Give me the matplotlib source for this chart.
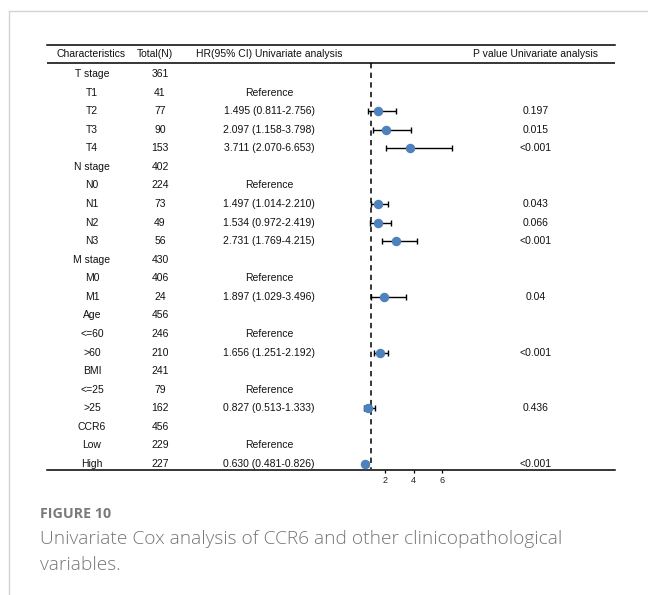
import numpy as np
import matplotlib
matplotlib.use("Agg")
import matplotlib.pyplot as plt
import matplotlib.transforms as mtransforms
from matplotlib.lines import Line2D

# univariate Cox results
labels = ["T stage", "T1", "T2", "T3", "T4",
          "N stage", "N0", "N1", "N2", "N3",
          "M stage", "M0", "M1",
          "Age", "<=60", ">60",
          "BMI", "<=25", ">25",
          "CCR6", "Low", "High"]
totals = [361, 41, 77, 90, 153,
          402, 224, 73, 49, 56,
          430, 406, 24,
          456, 246, 210,
          241, 79, 162,
          456, 229, 227]
nan = np.nan
hr = [nan, nan, 1.495, 2.097, 3.711,
      nan, nan, 1.497, 1.534, 2.731,
      nan, nan, 1.897,
      nan, nan, 1.656,
      nan, nan, 0.827,
      nan, nan, 0.630]
ci_low = [nan, nan, 0.811, 1.158, 2.070,
          nan, nan, 1.014, 0.972, 1.769,
          nan, nan, 1.029,
          nan, nan, 1.251,
          nan, nan, 0.513,
          nan, nan, 0.481]
ci_high = [nan, nan, 2.756, 3.798, 6.653,
           nan, nan, 2.210, 2.419, 4.215,
           nan, nan, 3.496,
           nan, nan, 2.192,
           nan, nan, 1.333,
           nan, nan, 0.826]
pvals = ["", "", "0.197", "0.015", "<0.001",
         "", "", "0.043", "0.066", "<0.001",
         "", "", "0.04",
         "", "", "<0.001",
         "", "", "0.436",
         "", "", "<0.001"]
reference_rows = ["T1", "N0", "M0", "<=60", "<=25", "Low"]
xticks = [2, 4, 6]

W, H = 648, 595
fig = plt.figure(figsize=(W / 100, H / 100), dpi=100)
fig.patch.set_facecolor("white")

# table / forest area in pixel terms
left_px, right_px, top_px, bot_px = 47, 615, 44.5, 469.5
ax = fig.add_axes([left_px / W, 1 - bot_px / H,
                   (right_px - left_px) / W, (bot_px - top_px) / H])

px_per_unit = 14.33
ref_px = 370.7
ax.set_xlim(1 - (ref_px - left_px) / px_per_unit, 1 + (right_px - ref_px) / px_per_unit)
ax.set_ylim(21.3, -1.59)

for s in ["left", "right"]:
    ax.spines[s].set_visible(False)
ax.spines["top"].set_linewidth(1.1)
ax.spines["bottom"].set_linewidth(1.1)
ax.set_yticks([])
ax.set_xticks(xticks)
ax.tick_params(axis="x", direction="out", length=2.5, width=0.9, pad=2,
               labelsize=6.5, labelcolor="#222222")
for lab in ax.get_xticklabels():
    lab.set_fontfamily("Liberation Sans")

header_y = -1.08
ax.axhline(-0.576, color="black", lw=1.1)

rows = np.arange(len(labels))
hr_a = np.array(hr)
lo_a = np.array(ci_low)
hi_a = np.array(ci_high)

ax.vlines(1, -0.576, 21.3, colors="black", linestyles=(0, (3.5, 2.8)), lw=1.1)
ax.errorbar(hr_a, rows, xerr=[hr_a - lo_a, hi_a - hr_a], fmt="o",
            color="#4F81BD", ecolor="black", elinewidth=1.0, capsize=2.2,
            capthick=1.0, markersize=5.8, zorder=3)

# text columns
tr = mtransforms.blended_transform_factory(fig.transFigure, ax.transData)
tkw = dict(ha="center", va="center", fontsize=7.5, family="Liberation Sans",
           color="#111111", transform=tr)
col_char, col_total, col_hr, col_p = 92 / W, 160 / W, 269 / W, 535.5 / W

ax.text(91 / W, header_y, "Characteristics", **tkw)
ax.text(155 / W, header_y, "Total(N)", **tkw)
ax.text(col_hr, header_y, "HR(95% CI) Univariate analysis", **tkw)
ax.text(col_p, header_y, "P value Univariate analysis", **tkw)

for i, name in enumerate(labels):
    ax.text(col_char, i, name, **tkw)
    ax.text(col_total, i, str(totals[i]), **tkw)
    if name in reference_rows:
        ax.text(col_hr, i, "Reference", **tkw)
    elif not np.isnan(hr[i]):
        ax.text(col_hr, i, f"{hr[i]:.3f} ({ci_low[i]:.3f}-{ci_high[i]:.3f})", **tkw)
    if pvals[i]:
        ax.text(col_p, i, pvals[i], **tkw)

# card border
border = "#d4d4d4"
fig.add_artist(Line2D([9 / W, 9 / W], [0, 1 - 11 / H], color=border, lw=1.0,
                      transform=fig.transFigure))
fig.add_artist(Line2D([9 / W, 1], [1 - 11 / H, 1 - 11 / H], color=border, lw=1.0,
                      transform=fig.transFigure))

# caption
fig.text(40 / W, 1 - 514 / H, "FIGURE 10", fontsize=10.3, fontweight="bold",
         family="Open Sans", color="#7a7a7a", ha="left", va="center")
fig.text(40 / W, 1 - 539 / H, "Univariate Cox analysis of CCR6 and other clinicopathological",
         fontsize=13.8, family="Open Sans", fontweight="light", color="#757575",
         ha="left", va="center")
fig.text(40 / W, 1 - 565 / H, "variables.", fontsize=13.8, family="Open Sans",
         fontweight="light", color="#757575", ha="left", va="center")

fig.savefig("out.png", dpi=100, facecolor="white")
